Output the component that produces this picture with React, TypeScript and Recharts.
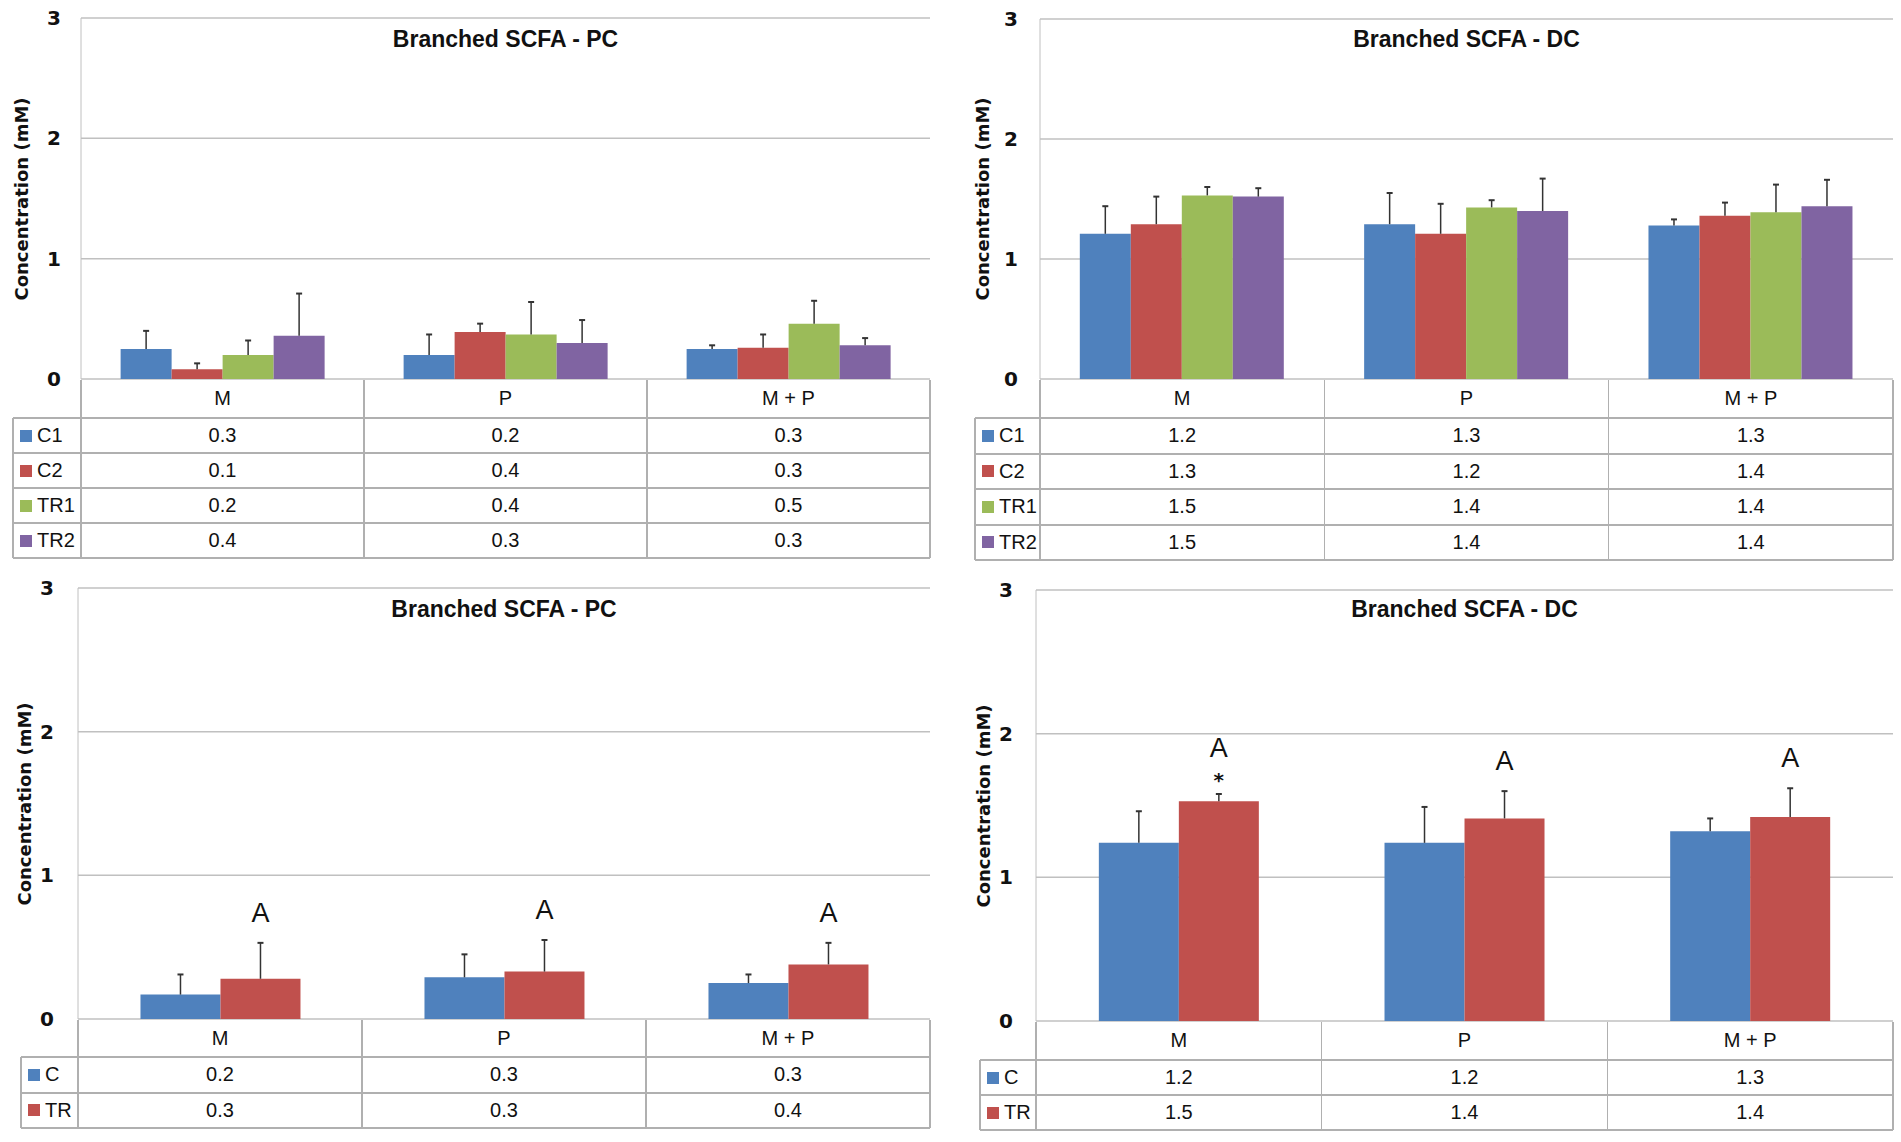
import React from 'react';
import { BarChart, Bar, XAxis, YAxis, CartesianGrid, LabelList } from 'recharts';

const CATEGORIES = ['M', 'P', 'M + P'];
const Y_TICKS = [0, 1, 2, 3];

// Branched SCFA - PC, four groups
const PC4_C1 = [0.25, 0.2, 0.25];
const PC4_C1_SD = [0.15, 0.17, 0.03];
const PC4_C2 = [0.08, 0.39, 0.26];
const PC4_C2_SD = [0.05, 0.07, 0.11];
const PC4_TR1 = [0.2, 0.37, 0.46];
const PC4_TR1_SD = [0.12, 0.27, 0.19];
const PC4_TR2 = [0.36, 0.3, 0.28];
const PC4_TR2_SD = [0.35, 0.19, 0.06];

// Branched SCFA - DC, four groups
const DC4_C1 = [1.21, 1.29, 1.28];
const DC4_C1_SD = [0.23, 0.26, 0.05];
const DC4_C2 = [1.29, 1.21, 1.36];
const DC4_C2_SD = [0.23, 0.25, 0.11];
const DC4_TR1 = [1.53, 1.43, 1.39];
const DC4_TR1_SD = [0.07, 0.06, 0.23];
const DC4_TR2 = [1.52, 1.4, 1.44];
const DC4_TR2_SD = [0.07, 0.27, 0.22];

// Branched SCFA - PC, pooled
const PC2_C = [0.17, 0.29, 0.25];
const PC2_C_SD = [0.14, 0.16, 0.06];
const PC2_TR = [0.28, 0.33, 0.38];
const PC2_TR_SD = [0.25, 0.22, 0.15];
const PC2_SIG = ['A', 'A', 'A'];
const PC2_STAR = ['', '', ''];

// Branched SCFA - DC, pooled
const DC2_C = [1.24, 1.24, 1.32];
const DC2_C_SD = [0.22, 0.25, 0.09];
const DC2_TR = [1.53, 1.41, 1.42];
const DC2_TR_SD = [0.05, 0.19, 0.2];
const DC2_SIG = ['A', 'A', 'A'];
const DC2_STAR = ['*', '', ''];

const BLUE = '#4F81BD';
const RED = '#C0504D';
const GREEN = '#9BBB59';
const PURPLE = '#8064A2';

const NARROW = '"Liberation Sans Narrow", "Arial Narrow", sans-serif';
const BOLD = '"DejaVu Sans", Verdana, sans-serif';
const GRID = '#c0c0c0';
const TABLE_LINE = '#b0b0b0';

interface Series {
  name: string;
  color: string;
  values: number[];
  sd: number[];
}

interface Geo {
  plotL: number;
  plotR: number;
  plotT: number;
  plotB: number;
  tableL: number;
  catH: number;
  rowH: number;
  labelX: number;
  tickX: number;
  titleY: number;
}

const Line = ({ x, y, w, h, c = TABLE_LINE }: any) => (
  <div style={{ position: 'absolute', left: x, top: y, width: w, height: h, background: c }} />
);

// upper-only error bar, scaled from the bar's own pixel height
const errorTop = (props: any, s: Series) => {
  const vb = props.viewBox || props;
  const i = props.index;
  const perUnit = vb.height / s.values[i];
  return { cx: vb.x + vb.width / 2, top: vb.y, errTop: vb.y - s.sd[i] * perUnit };
};

function Panel({
  g,
  title,
  series,
  gap,
  sig,
  star,
}: {
  g: Geo;
  title: string;
  series: Series[];
  gap: string;
  sig?: string[];
  star?: string[];
}) {
  const chartX = g.plotL - 60;
  const chartTop = g.plotT - 12;
  const bottomPad = 24;
  const chartW = g.plotR - chartX + 4;
  const chartH = g.plotB - chartTop + bottomPad;
  const colW = (g.plotR - g.plotL) / CATEGORIES.length;
  const last = series.length - 1;

  const data = CATEGORIES.map((cat, i) => {
    const row: any = { cat };
    series.forEach((s, k) => {
      row['v' + k] = s.values[i];
    });
    return row;
  });

  const renderErr = (s: Series) => (props: any) => {
    const { cx, top, errTop } = errorTop(props, s);
    return (
      <g key={'e' + s.name + props.index}>
        <line x1={cx} x2={cx} y1={top} y2={errTop} stroke="#333" strokeWidth={1.5} />
        <line x1={cx - 3} x2={cx + 3} y1={errTop} y2={errTop} stroke="#333" strokeWidth={2} />
      </g>
    );
  };

  const renderSig = (props: any) => {
    const i = props.index;
    if (!sig || !sig[i]) return null;
    const { cx, errTop } = errorTop(props, series[last]);
    const hasStar = star && star[i];
    return (
      <g key={'sig' + i}>
        {hasStar && (
          <text x={cx} y={errTop - 14} textAnchor="middle" dominantBaseline="central" fontFamily={BOLD} fontWeight="bold" fontSize={20} fill="#111">
            {star![i]}
          </text>
        )}
        <text x={cx} y={errTop - (hasStar ? 46 : 30)} textAnchor="middle" dominantBaseline="central" fontFamily={NARROW} fontSize={27} fill="#111">
          {sig[i]}
        </text>
      </g>
    );
  };

  const tableTop = g.plotB;
  const rowsTop = tableTop + g.catH;
  const tableBottom = rowsTop + series.length * g.rowH;

  return (
    <>
      <div style={{ position: 'absolute', left: chartX, top: chartTop }}>
        <BarChart
          width={chartW}
          height={chartH}
          data={data}
          margin={{ top: 12, right: 4, bottom: bottomPad, left: 0 }}
          barCategoryGap={gap}
          barGap={0}
        >
          <CartesianGrid vertical={false} stroke={GRID} strokeWidth={1.5} />
          <XAxis dataKey="cat" hide />
          <YAxis
            width={60}
            domain={[0, 3]}
            ticks={Y_TICKS}
            interval={0}
            tickSize={0}
            tickMargin={g.plotL - g.tickX - 7}
            axisLine={{ stroke: GRID }}
            tickLine={false}
            tick={{ fontFamily: BOLD, fontWeight: 'bold', fontSize: 20, fill: '#111' }}
          />
          {series.map((s, k) => (
            <Bar key={s.name} dataKey={'v' + k} fill={s.color} isAnimationActive={false}>
              <LabelList dataKey={'v' + k} content={renderErr(s)} />
              {k === last && sig && <LabelList dataKey={'v' + k} content={renderSig} />}
            </Bar>
          ))}
        </BarChart>
      </div>

      <div
        style={{
          position: 'absolute',
          left: (g.plotL + g.plotR) / 2,
          top: g.titleY,
          transform: 'translate(-50%, -50%)',
          fontFamily: NARROW,
          fontWeight: 'bold',
          fontSize: 23,
          color: '#111',
          whiteSpace: 'nowrap',
        }}
      >
        {title}
      </div>
      <div
        style={{
          position: 'absolute',
          left: g.labelX,
          top: (g.plotT + g.plotB) / 2,
          transform: 'translate(-50%, -50%) rotate(-90deg)',
          fontFamily: BOLD,
          fontWeight: 'bold',
          fontSize: 18,
          color: '#111',
          whiteSpace: 'nowrap',
        }}
      >
        Concentration (mM)
      </div>

      {/* data table */}
      {CATEGORIES.map((cat, i) => (
        <div
          key={'c' + cat}
          style={{
            position: 'absolute',
            left: g.plotL + i * colW,
            top: tableTop,
            width: colW,
            height: g.catH,
            lineHeight: g.catH + 'px',
            textAlign: 'center',
            fontFamily: NARROW,
            fontSize: 20,
            color: '#111',
          }}
        >
          {cat}
        </div>
      ))}
      {series.map((s, k) => (
        <React.Fragment key={'r' + s.name}>
          <Line x={g.tableL} y={rowsTop + k * g.rowH - 1} w={g.plotR - g.tableL} h={2} />
          <div
            style={{
              position: 'absolute',
              left: g.tableL + 7,
              top: rowsTop + k * g.rowH + g.rowH / 2 - 6,
              width: 12,
              height: 12,
              background: s.color,
            }}
          />
          <div
            style={{
              position: 'absolute',
              left: g.tableL + 24,
              top: rowsTop + k * g.rowH,
              height: g.rowH,
              lineHeight: g.rowH + 'px',
              fontFamily: NARROW,
              fontSize: 20,
              color: '#111',
            }}
          >
            {s.name}
          </div>
          {s.values.map((v, i) => (
            <div
              key={i}
              style={{
                position: 'absolute',
                left: g.plotL + i * colW,
                top: rowsTop + k * g.rowH,
                width: colW,
                height: g.rowH,
                lineHeight: g.rowH + 'px',
                textAlign: 'center',
                fontFamily: NARROW,
                fontSize: 20,
                color: '#111',
              }}
            >
              {v.toFixed(1)}
            </div>
          ))}
        </React.Fragment>
      ))}
      <Line x={g.tableL} y={tableBottom - 1} w={g.plotR - g.tableL} h={2} />
      <Line x={g.tableL - 1} y={rowsTop} w={1.5} h={tableBottom - rowsTop} />
      {[0, 1, 2, 3].map((i) => (
        <Line key={'v' + i} x={g.plotL + i * colW - 0.75} y={tableTop + 1} w={1.5} h={tableBottom - tableTop - 1} />
      ))}
    </>
  );
}

const GEO_TL: Geo = { plotL: 81, plotR: 930, plotT: 18, plotB: 379, tableL: 13, catH: 39, rowH: 35, labelX: 21, tickX: 54, titleY: 39 };
const GEO_TR: Geo = { plotL: 1040, plotR: 1893, plotT: 19, plotB: 379, tableL: 975, catH: 39, rowH: 35.5, labelX: 982, tickX: 1011, titleY: 39 };
const GEO_BL: Geo = { plotL: 78, plotR: 930, plotT: 588, plotB: 1019, tableL: 21, catH: 38, rowH: 35.5, labelX: 24, tickX: 47, titleY: 609 };
const GEO_BR: Geo = { plotL: 1036, plotR: 1893, plotT: 590, plotB: 1021, tableL: 980, catH: 39, rowH: 35, labelX: 983, tickX: 1006, titleY: 609 };

export default function App() {
  const four = (c1: number[], c1sd: number[], c2: number[], c2sd: number[], t1: number[], t1sd: number[], t2: number[], t2sd: number[]): Series[] => [
    { name: 'C1', color: BLUE, values: c1, sd: c1sd },
    { name: 'C2', color: RED, values: c2, sd: c2sd },
    { name: 'TR1', color: GREEN, values: t1, sd: t1sd },
    { name: 'TR2', color: PURPLE, values: t2, sd: t2sd },
  ];
  const two = (c: number[], csd: number[], t: number[], tsd: number[]): Series[] => [
    { name: 'C', color: BLUE, values: c, sd: csd },
    { name: 'TR', color: RED, values: t, sd: tsd },
  ];

  return (
    <div style={{ position: 'absolute', left: 0, top: 0, width: 1901, height: 1142, background: '#fff', overflow: 'hidden' }}>
      <Panel
        g={GEO_TL}
        title="Branched SCFA - PC"
        gap="14%"
        series={four(PC4_C1, PC4_C1_SD, PC4_C2, PC4_C2_SD, PC4_TR1, PC4_TR1_SD, PC4_TR2, PC4_TR2_SD)}
      />
      <Panel
        g={GEO_TR}
        title="Branched SCFA - DC"
        gap="14%"
        series={four(DC4_C1, DC4_C1_SD, DC4_C2, DC4_C2_SD, DC4_TR1, DC4_TR1_SD, DC4_TR2, DC4_TR2_SD)}
      />
      <Panel g={GEO_BL} title="Branched SCFA - PC" gap="22%" series={two(PC2_C, PC2_C_SD, PC2_TR, PC2_TR_SD)} sig={PC2_SIG} star={PC2_STAR} />
      <Panel g={GEO_BR} title="Branched SCFA - DC" gap="22%" series={two(DC2_C, DC2_C_SD, DC2_TR, DC2_TR_SD)} sig={DC2_SIG} star={DC2_STAR} />
    </div>
  );
}
